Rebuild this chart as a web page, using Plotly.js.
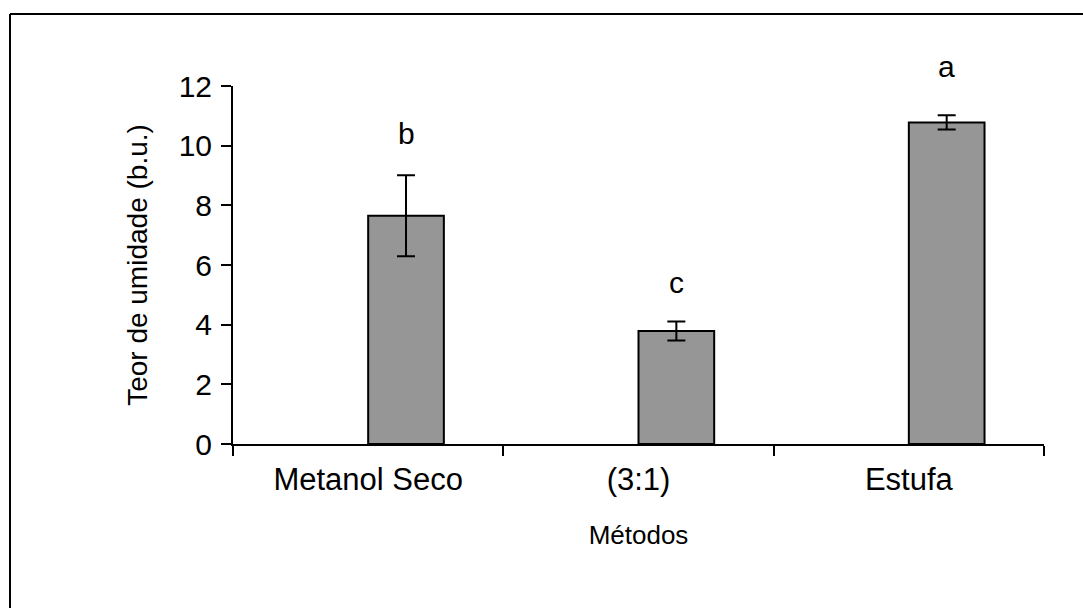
<!DOCTYPE html>
<html>
<head>
<meta charset="utf-8">
<script src="https://cdn.plot.ly/plotly-3.0.1.min.js"></script>
<style>
  html, body { margin: 0; padding: 0; background: #fff; }
  #chart { width: 1083px; height: 608px; }
</style>
</head>
<body>
<div id="chart"></div>
<script>
// ---- data ----
const categories = ["Metanol Seco", "(3:1)", "Estufa"];
const moisture = [7.65, 3.79, 10.78];          // Teor de umidade (b.u.)
const moistureErr = [1.36, 0.32, 0.24];        // error bar half-length
const groupLetters = ["b", "c", "a"];
const letterY = [10.4, 5.4, 12.65];            // vertical position of letters
const yTicks = [0, 2, 4, 6, 8, 10, 12];
const yRange = [0, 12];

const barWidth = 0.28;
const font = "Liberation Sans, Arial, sans-serif";

const trace = {
  type: "bar",
  x: categories,
  y: moisture,
  width: barWidth,
  offset: 0,
  marker: { color: "#969696", line: { color: "#000", width: 2 } },
  error_y: { type: "data", array: moistureErr, visible: true, color: "#000", thickness: 2, width: 9 },
  hoverinfo: "skip"
};

const annotations = groupLetters.map((t, i) => ({
  x: i + barWidth / 2, xref: "x",
  y: (letterY[i] - yRange[0]) / (yRange[1] - yRange[0]), yref: "paper",
  text: t, showarrow: false, xanchor: "center", yanchor: "middle",
  font: { family: font, size: 30, color: "#000" }
}));

// outer frame (only top and left edges fall inside the picture)
const L = 233, R = 1044, T = 86, B = 444;
const px = v => (v - L) / (R - L);
const py = v => (B - v) / (B - T);

const layout = {
  width: 1083, height: 608,
  margin: { l: L, r: 1083 - R, t: T, b: 608 - B },
  paper_bgcolor: "#fff", plot_bgcolor: "#fff",
  showlegend: false,
  font: { family: font, color: "#000" },
  xaxis: {
    type: "category",
    range: [-0.5, 2.5],
    showline: true, linecolor: "#000", linewidth: 2,
    ticks: "outside", tickson: "boundaries", ticklen: 10, tickwidth: 2, tickcolor: "#000",
    ticklabelstandoff: 7,
    showgrid: false, zeroline: false,
    tickfont: { family: font, size: 31, color: "#000" },
    title: { text: "Métodos", font: { family: font, size: 26, color: "#000" }, standoff: 30 },
    automargin: false
  },
  yaxis: {
    range: yRange,
    tickvals: yTicks,
    showline: true, linecolor: "#000", linewidth: 2,
    ticks: "outside", ticklen: 10, tickwidth: 2, tickcolor: "#000",
    ticklabelstandoff: 3,
    showgrid: false, zeroline: false,
    tickfont: { family: font, size: 30, color: "#000" },
    title: { text: "Teor de umidade (b.u.)", font: { family: font, size: 28, color: "#000" }, standoff: 23 },
    automargin: false
  },
  annotations: annotations,
  shapes: [
    { type: "line", xref: "paper", yref: "paper", x0: px(10), x1: px(1090), y0: py(14), y1: py(14), line: { color: "#000", width: 2 } },
    { type: "line", xref: "paper", yref: "paper", x0: px(10), x1: px(10), y0: py(14), y1: py(620), line: { color: "#000", width: 2 } }
  ]
};

Plotly.newPlot("chart", [trace], layout, { staticPlot: true, displayModeBar: false });
</script>
</body>
</html>
